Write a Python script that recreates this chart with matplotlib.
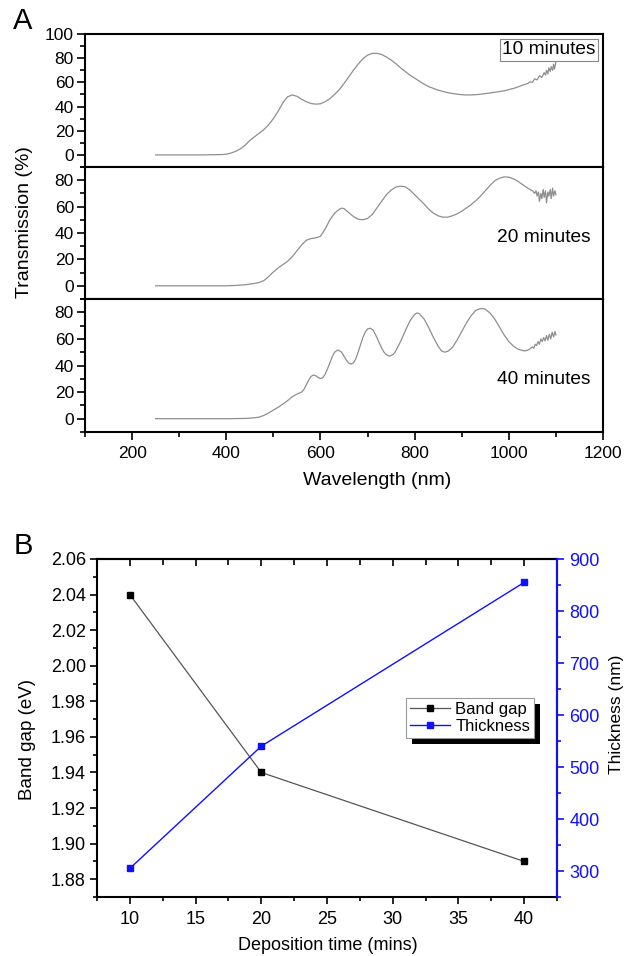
import matplotlib
matplotlib.use('Agg')
import matplotlib.pyplot as plt
from matplotlib.ticker import MultipleLocator, FormatStrFormatter
from matplotlib.patches import Rectangle
from matplotlib.transforms import IdentityTransform

plt.rcParams['font.family'] = ['Liberation Sans', 'DejaVu Sans']

# ---------------- Panel A data ----------------
wl_10 = [250, 300, 350, 390, 400, 410, 420, 430, 440, 450, 460, 470, 480, 490, 500, 510, 520, 530, 540,
         550, 560, 570, 580, 590, 600, 610, 620, 630, 640, 650, 660, 670, 680, 690, 700, 710, 720, 730,
         740, 750, 760, 770, 780, 790, 800, 810, 820, 830, 840, 850, 860, 870, 880, 890, 900, 910, 920,
         930, 940, 950, 960, 970, 980, 990, 1000, 1010, 1020, 1030, 1040, 1045, 1050, 1055, 1060, 1065,
         1070, 1075, 1078, 1080, 1083, 1085, 1088, 1090, 1093, 1095, 1097, 1100]
t_10 = [0, 0, 0, 0.3, 0.6, 1.5, 3, 5, 8, 12, 15, 18, 21, 25, 30, 36, 43, 48, 49.6,
        48.5, 46, 44, 42.5, 42, 42.3, 44, 46.5, 50, 54, 59, 64.5, 70, 75, 79.5, 82.5, 84, 84, 83,
        81, 78.5, 75.5, 72, 69, 66, 63.5, 61, 58.5, 56.5, 55, 53.5, 52.5, 51.5, 50.8, 50.2, 49.8, 49.6, 49.6,
        49.8, 50.2, 50.7, 51.2, 51.8, 52.4, 53, 54, 55, 56.3, 57.8, 59, 60.5, 60, 63, 62, 65.5,
        64, 68, 66, 70, 67, 72, 69, 73, 70, 75, 71, 77]

wl_20 = [250, 300, 350, 400, 420, 440, 460, 470, 480, 490, 500, 510, 520, 530, 540, 550, 560, 570, 580,
         590, 600, 610, 620, 630, 640, 645, 650, 660, 670, 680, 690, 700, 710, 720, 730, 740, 750, 760,
         770, 780, 790, 800, 810, 820, 830, 840, 850, 860, 870, 880, 890, 900, 910, 920, 930, 940, 950,
         960, 970, 980, 990, 1000, 1010, 1020, 1030, 1040, 1050, 1055, 1058, 1060, 1063, 1065, 1068,
         1070, 1073, 1075, 1078, 1080, 1083, 1085, 1088, 1090, 1093, 1095, 1098, 1100]
t_20 = [0, 0, 0, 0, 0.3, 0.8, 1.8, 2.5, 4, 7, 10.5, 13.5, 16, 18.5, 22, 26.5, 31, 34.5, 35.8,
        36.3, 37.5, 43, 50, 55, 58, 58.8, 58.5, 55.5, 52.5, 50.5, 50, 51, 54, 59, 64, 69, 72.5, 74.8,
        75.5, 75, 72.5, 69, 65.5, 62, 58, 55, 53, 52, 52, 53, 54.5, 56.5, 59, 61.5, 64.5, 68, 72,
        76, 79.5, 81.5, 82.5, 82.3, 81, 79, 76.5, 74, 72, 70, 72, 68, 71, 64, 70,
        66, 73, 67, 72, 63, 71, 68, 73, 66, 74, 68, 72, 69]

wl_40 = [250, 300, 350, 400, 440, 460, 470, 480, 490, 500, 510, 520, 530, 540, 550, 560, 565, 570, 575,
         580, 585, 590, 595, 600, 605, 610, 615, 620, 625, 630, 637, 645, 650, 655, 660, 665, 670, 675,
         680, 685, 690, 695, 700, 706, 712, 720, 725, 730, 735, 740, 747, 755, 760, 770, 780, 790, 800,
         805, 810, 820, 830, 840, 850, 857, 864, 872, 880, 890, 900, 910, 920, 930, 940, 945, 950, 960,
         970, 980, 990, 1000, 1010, 1020, 1030, 1034, 1040, 1045, 1050, 1053, 1056, 1059, 1062, 1065,
         1068, 1071, 1074, 1077, 1080, 1083, 1086, 1089, 1092, 1095, 1098, 1100]
t_40 = [0, 0, 0, 0, 0.2, 0.7, 1.2, 2.5, 4.3, 6.5, 8.5, 11, 13.5, 16.5, 18.5, 20, 22, 25.5, 29,
        31.8, 32.8, 32.3, 31, 30.3, 30.8, 33.5, 37.5, 42, 46.5, 50, 51.7, 50, 47, 44, 41.8, 41, 42, 45,
        50, 55.5, 61, 65, 67.5, 68, 66.5, 61, 57, 53, 50, 48, 47, 48.5, 51, 58, 66, 73.5, 78.5,
        79.5, 79, 75, 68.5, 61, 54.5, 51, 50, 51, 53.5, 59, 65.5, 72, 77.5, 81.5, 82.8, 82.8, 82.3, 79.5,
        75, 69, 63, 58, 54.5, 52.2, 51.2, 51, 51.5, 52.5, 54, 53, 56, 55, 58, 56,
        60, 58, 61, 58.5, 62.5, 59, 63.5, 60, 65, 61.5, 65.5, 63]

spectra = [(wl_10, t_10, '10 minutes', (-10, 100)),
           (wl_20, t_20, '20 minutes', (-10, 90)),
           (wl_40, t_40, '40 minutes', (-10, 90))]

# ---------------- Panel B data ----------------
dep_time = [10, 20, 40]
band_gap = [2.04, 1.94, 1.89]
thickness = [305, 540, 855]

W, H = 634, 956
fig = plt.figure(figsize=(W / 100, H / 100), dpi=100)


def rect(l, t, r, b):
    return [l / W, 1 - b / H, (r - l) / W, (b - t) / H]


panel_px = [(85, 34, 603, 167), (85, 167, 603, 299), (85, 299, 603, 432)]
label_pos = [(549, 50), (544, 238), (544, 379)]
TICK_FS = 12.5

for i, ((wl, tr, lab, ylim), px, lp) in enumerate(zip(spectra, panel_px, label_pos)):
    ax = fig.add_axes(rect(*px))
    ax.plot(wl, tr, color='#8e8e8e', lw=0.9)
    ax.set_xlim(100, 1200)
    ax.set_ylim(*ylim)
    ax.xaxis.set_major_locator(MultipleLocator(200))
    ax.xaxis.set_minor_locator(MultipleLocator(100))
    ax.yaxis.set_major_locator(MultipleLocator(20))
    ax.yaxis.set_minor_locator(MultipleLocator(10))
    ax.tick_params(which='both', direction='out', top=False, right=False, width=1.2)
    ax.tick_params(which='major', length=6)
    ax.tick_params(which='minor', length=3.5)
    ax.tick_params(axis='y', labelsize=TICK_FS, pad=2)
    ax.tick_params(axis='x', labelsize=TICK_FS, pad=4, labelbottom=(i == 2))
    for s in ax.spines.values():
        s.set_linewidth(1.5)
    bbox = None
    if i == 0:
        bbox = dict(boxstyle='square,pad=0.12', fc='white', ec='#888888', lw=0.8)
    fig.text(lp[0] / W, 1 - lp[1] / H, lab, ha='center', va='center', fontsize=13.8, bbox=bbox)

fig.text(377 / W, 1 - 481 / H, 'Wavelength (nm)', ha='center', va='center', fontsize=14)
fig.text(25 / W, 1 - 222 / H, 'Transmission (%)', ha='center', va='center', fontsize=14, rotation=90)
fig.text(23 / W, 1 - 21 / H, 'A', ha='center', va='center', fontsize=21)
fig.text(23 / W, 1 - 546 / H, 'B', ha='center', va='center', fontsize=21)

# ---------------- Panel B ----------------
BLUE = '#1010ff'
axb = fig.add_axes(rect(97, 559, 557, 897))
axt = axb.twinx()
l1, = axb.plot(dep_time, band_gap, color='#555555', lw=0.9, marker='s', ms=5,
               mfc='black', mec='black', label='Band gap')
l2, = axt.plot(dep_time, thickness, color=BLUE, lw=1.0, marker='s', ms=5,
               mfc=BLUE, mec=BLUE, label='Thickness')
axb.set_xlim(7.5, 42.5)
axb.set_ylim(1.87, 2.06)
axt.set_ylim(250, 900)
axb.xaxis.set_major_locator(MultipleLocator(5))
axb.xaxis.set_minor_locator(MultipleLocator(2.5))
axb.yaxis.set_major_locator(MultipleLocator(0.02))
axb.yaxis.set_minor_locator(MultipleLocator(0.01))
axb.yaxis.set_major_formatter(FormatStrFormatter('%.2f'))
axt.yaxis.set_major_locator(MultipleLocator(100))
axt.yaxis.set_minor_locator(MultipleLocator(50))
B_FS = 13
axb.tick_params(which='both', direction='out', top=False, right=False, width=1.2, labelsize=B_FS)
axb.tick_params(which='major', length=5)
axb.tick_params(which='minor', length=3)
axb.tick_params(axis='x', pad=5)
axb.tick_params(axis='y', pad=3)
axt.tick_params(which='both', direction='out', colors=BLUE, width=1.2, labelsize=B_FS, pad=4)
axt.tick_params(which='major', length=5)
axt.tick_params(which='minor', length=3)
for s in axb.spines.values():
    s.set_linewidth(1.5)
for s in axt.spines.values():
    s.set_linewidth(1.5)
axt.spines['right'].set_color(BLUE)
axt.spines['left'].set_visible(False)
axt.spines['top'].set_visible(False)
axt.spines['bottom'].set_visible(False)

sec = axb.secondary_xaxis('top')
sec.xaxis.set_major_locator(MultipleLocator(5))
sec.xaxis.set_minor_locator(MultipleLocator(2.5))
sec.tick_params(which='both', direction='in', labeltop=False, width=1.2)
sec.tick_params(which='major', length=5)
sec.tick_params(which='minor', length=4)
sec.spines['top'].set_linewidth(1.5)

fig.text(328 / W, 1 - 946 / H, 'Deposition time (mins)', ha='center', va='center', fontsize=13)
fig.text(27 / W, 1 - 740 / H, 'Band gap (eV)', ha='center', va='center', fontsize=13.5, rotation=90)
fig.text(617 / W, 1 - 714 / H, 'Thickness (nm)', ha='center', va='center', fontsize=12.5, rotation=90)

leg = axt.legend([l1, l2], ['Band gap', 'Thickness'], loc='upper left',
                 bbox_to_anchor=((406 - 97) / 460, (897 - 698) / 338), borderaxespad=0,
                 fancybox=False, framealpha=1, edgecolor='#999999', fontsize=12,
                 handlelength=2.4, handletextpad=0.3, labelspacing=0.1, borderpad=0.25,
                 markerscale=0.8)
leg.get_frame().set_linewidth(0.8)
leg.set_zorder(10)

fig.canvas.draw()
bb = leg.get_window_extent()
shadow = Rectangle((bb.x0 + 6, bb.y0 - 6), bb.width, bb.height, transform=IdentityTransform(),
                   facecolor='black', edgecolor='none', zorder=9, clip_on=False)
axt.add_artist(shadow)

fig.savefig('out.png', dpi=100)
